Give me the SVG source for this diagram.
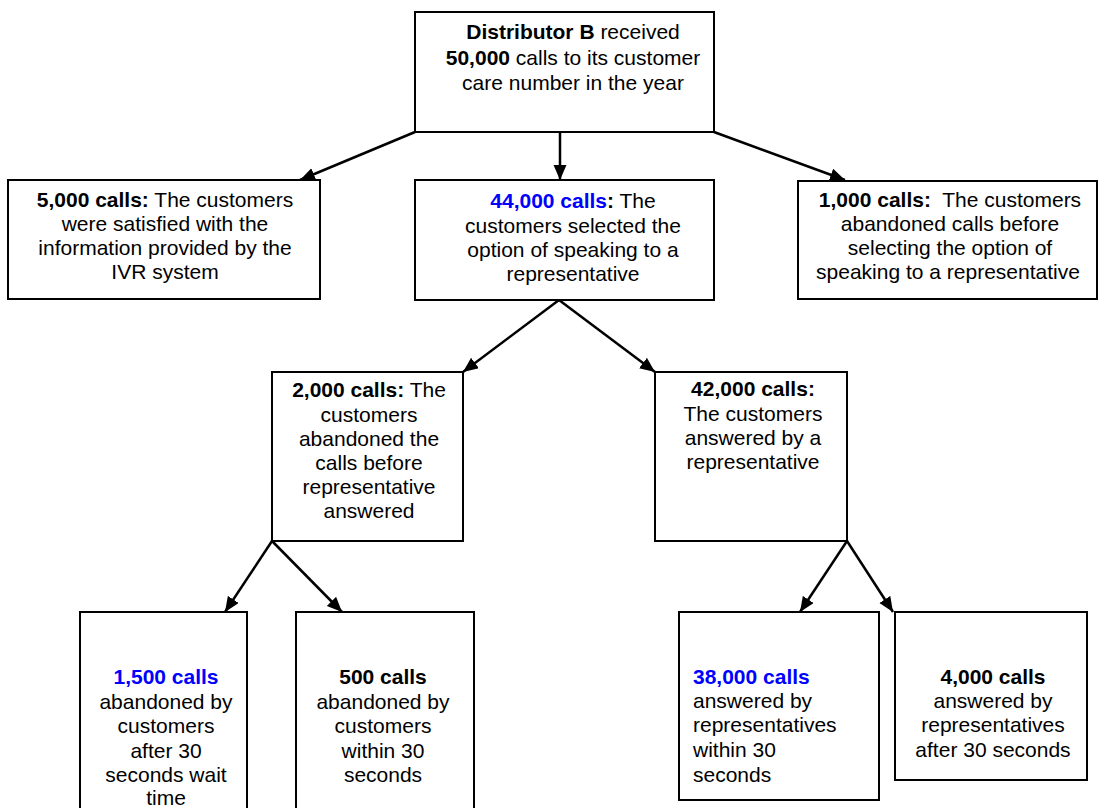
<svg xmlns="http://www.w3.org/2000/svg" width="1099" height="808" viewBox="0 0 1099 808">
<defs>
<style>
.box{fill:#fff;stroke:#000;stroke-width:2}
.t{font-family:"Liberation Sans",Arial,Helvetica,sans-serif;font-size:21px;fill:#000;text-anchor:middle}
.l{text-anchor:start}
.b{font-weight:bold}
.blue{fill:#0000ff}
.c{stroke:#000;stroke-width:2.5;fill:none;marker-end:url(#ah)}
</style>
<marker id="ah" markerUnits="userSpaceOnUse" markerWidth="16" markerHeight="14" refX="15" refY="6.5" orient="auto">
<path d="M0,0 L15,6.5 L0,13 z" fill="#000"/>
</marker>
</defs>
<rect width="1099" height="808" fill="#fff"/>
<g id="connectors">
<line class="c" x1="415" y1="132" x2="300" y2="180"/>
<line class="c" x1="560" y1="132" x2="560" y2="180"/>
<line class="c" x1="714" y1="132" x2="845" y2="180"/>
<line class="c" x1="559" y1="300" x2="463" y2="372"/>
<line class="c" x1="559" y1="300" x2="655" y2="372"/>
<line class="c" x1="272" y1="541" x2="225" y2="612"/>
<line class="c" x1="272" y1="541" x2="342" y2="612"/>
<line class="c" x1="847" y1="541" x2="800" y2="612"/>
<line class="c" x1="847" y1="541" x2="893" y2="612"/>
</g>
<g id="n-top">
<rect class="box" x="415" y="12" width="299" height="120"/>
<text class="t" x="573" y="39"><tspan class="b">Distributor B</tspan> received</text>
<text class="t" x="573" y="64.5"><tspan class="b">50,000</tspan> calls to its customer</text>
<text class="t" x="573" y="90">care number in the year</text>
</g>
<g id="n-5000">
<rect class="box" x="8" y="180" width="312" height="119"/>
<text class="t" x="165" y="207"><tspan class="b">5,000 calls:</tspan> The customers</text>
<text class="t" x="165" y="231">were satisfied with the</text>
<text class="t" x="165" y="255">information provided by the</text>
<text class="t" x="165" y="279">IVR system</text>
</g>
<g id="n-44000">
<rect class="box" x="415" y="180" width="299" height="120"/>
<text class="t" x="573" y="208"><tspan class="b blue">44,000 calls</tspan><tspan class="b">:</tspan> The</text>
<text class="t" x="573" y="232.5">customers selected the</text>
<text class="t" x="573" y="256.5">option of speaking to a</text>
<text class="t" x="573" y="280.5">representative</text>
</g>
<g id="n-1000">
<rect class="box" x="798" y="181" width="299" height="118"/>
<text class="t" x="950" y="207" xml:space="preserve"><tspan class="b">1,000 calls:</tspan>  The customers</text>
<text class="t" x="950" y="231">abandoned calls before</text>
<text class="t" x="950" y="255">selecting the option of</text>
<text class="t" x="948" y="279">speaking to a representative</text>
</g>
<g id="n-2000">
<rect class="box" x="272" y="372" width="191" height="169"/>
<text class="t" x="369" y="397"><tspan class="b">2,000 calls:</tspan> The</text>
<text class="t" x="369" y="421.5">customers</text>
<text class="t" x="369" y="446">abandoned the</text>
<text class="t" x="369" y="470">calls before</text>
<text class="t" x="369" y="494">representative</text>
<text class="t" x="369" y="518">answered</text>
</g>
<g id="n-42000">
<rect class="box" x="655" y="372" width="192" height="169"/>
<text class="t" x="753" y="396"><tspan class="b">42,000 calls:</tspan></text>
<text class="t" x="753" y="420.5">The customers</text>
<text class="t" x="753" y="445">answered by a</text>
<text class="t" x="753" y="469">representative</text>
</g>
<g id="n-1500">
<rect class="box" x="80" y="612" width="167" height="210"/>
<text class="t" x="166" y="684"><tspan class="b blue">1,500 calls</tspan></text>
<text class="t" x="166" y="709">abandoned by</text>
<text class="t" x="166" y="733">customers</text>
<text class="t" x="166" y="757.5">after 30</text>
<text class="t" x="166" y="782">seconds wait</text>
<text class="t" x="166" y="805">time</text>
</g>
<g id="n-500">
<rect class="box" x="296" y="612" width="178" height="210"/>
<text class="t" x="383" y="684"><tspan class="b">500 calls</tspan></text>
<text class="t" x="383" y="709">abandoned by</text>
<text class="t" x="383" y="733">customers</text>
<text class="t" x="383" y="757.5">within 30</text>
<text class="t" x="383" y="782">seconds</text>
</g>
<g id="n-38000">
<rect class="box" x="679" y="612" width="200" height="188"/>
<text class="t l" x="693" y="683.5"><tspan class="b blue">38,000 calls</tspan></text>
<text class="t l" x="693" y="708">answered by</text>
<text class="t l" x="693" y="732">representatives</text>
<text class="t l" x="693" y="757">within 30</text>
<text class="t l" x="693" y="781.5">seconds</text>
</g>
<g id="n-4000">
<rect class="box" x="895" y="612" width="192" height="168"/>
<text class="t" x="993" y="683.5"><tspan class="b">4,000 calls</tspan></text>
<text class="t" x="993" y="708">answered by</text>
<text class="t" x="993" y="732">representatives</text>
<text class="t" x="993" y="757">after 30 seconds</text>
</g>
</svg>
